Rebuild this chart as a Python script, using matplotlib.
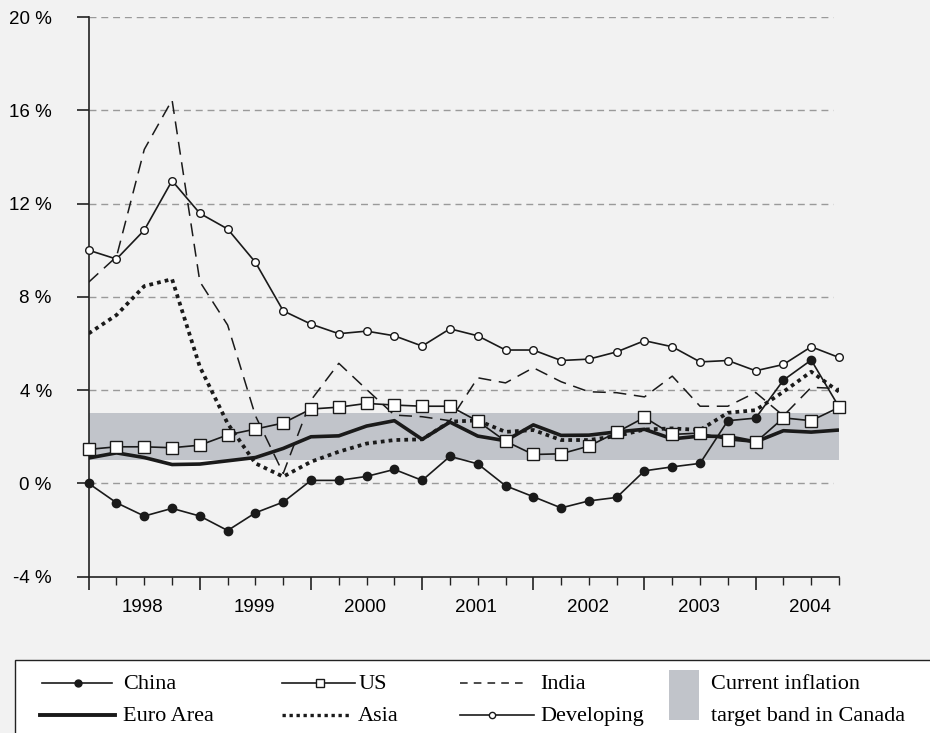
import matplotlib
matplotlib.use('Agg')
import matplotlib.pyplot as plt
from matplotlib.patches import Rectangle
from matplotlib.lines import Line2D
import numpy as np

# quarterly inflation, 1998Q1 .. 2004Q4 (%)
years = ['1998', '1999', '2000', '2001', '2002', '2003', '2004']
china = [0.0, -0.83, -1.40, -1.07, -1.40, -2.02, -1.26, -0.80, 0.13, 0.13, 0.30, 0.60, 0.13, 1.16,
         0.84, -0.10, -0.57, -1.05, -0.75, -0.60, 0.54, 0.71, 0.86, 2.69, 2.80, 4.43, 5.29, 3.28]
us = [1.46, 1.57, 1.57, 1.53, 1.64, 2.08, 2.33, 2.59, 3.19, 3.27, 3.43, 3.36, 3.31, 3.31,
      2.67, 1.81, 1.24, 1.27, 1.60, 2.19, 2.83, 2.10, 2.16, 1.87, 1.76, 2.81, 2.69, 3.26]
euro = [1.09, 1.31, 1.11, 0.81, 0.83, 0.97, 1.11, 1.50, 2.00, 2.04, 2.46, 2.69, 1.89, 2.63,
        2.03, 1.83, 2.51, 2.06, 2.07, 2.21, 2.32, 1.91, 2.03, 2.01, 1.78, 2.26, 2.20, 2.29]
india = [8.63, 9.72, 14.32, 16.44, 8.65, 6.79, 2.90, 0.43, 3.57, 5.15, 4.03, 2.93, 2.86, 2.69,
         4.53, 4.31, 4.96, 4.36, 3.93, 3.89, 3.71, 4.60, 3.31, 3.31, 3.90, 2.90, 4.12, 4.07]
asia = [6.43, 7.22, 8.46, 8.76, 5.00, 2.57, 0.86, 0.29, 0.93, 1.36, 1.71, 1.86, 1.89, 2.65,
        2.70, 2.21, 2.29, 1.86, 1.86, 2.03, 2.31, 2.36, 2.29, 3.03, 3.14, 3.93, 4.79, 3.93]
developing = [10.0, 9.62, 10.86, 12.98, 11.58, 10.91, 9.48, 7.40, 6.83, 6.42, 6.53, 6.33, 5.89, 6.63,
              6.33, 5.72, 5.72, 5.27, 5.33, 5.64, 6.12, 5.86, 5.21, 5.27, 4.83, 5.10, 5.86, 5.40]
band = (1, 3)
yticks = [-4, 0, 4, 8, 12, 16, 20]

bg = '#f2f2f2'
band_col = '#c1c4ca'
ink = '#1a1a1a'

fig = plt.figure(figsize=(9.3, 7.33), dpi=100, facecolor=bg)
ax = fig.add_axes([88.7/930, 1-576.7/733, (839-88.7)/930, (576.7-17)/733])
ax.set_facecolor(bg)

x = np.arange(len(china))
ax.set_xlim(0, len(china)-1)
ax.set_ylim(-4, 20)

ax.axhspan(band[0], band[1], xmin=0, xmax=1, color=band_col, lw=0, zorder=0)
for v in yticks[1:]:
    ax.plot([0, 26.8], [v, v], color='#9a9a9a', lw=1.0, dashes=(5, 3.5), zorder=1)

ax.plot(x, developing, color=ink, lw=1.2, marker='o', ms=5.5, mfc='white', mec=ink, mew=1.0, zorder=3, clip_on=False)
ax.plot(x, india, color=ink, lw=1.1, dashes=(8.5, 5), zorder=3)
ax.plot(x, asia, color=ink, lw=2.7, dashes=(1, 1.1), zorder=4)
ax.plot(x, euro, color=ink, lw=2.6, zorder=4, solid_capstyle='butt')
ax.plot(x, china, color=ink, lw=1.2, marker='o', ms=6, mfc=ink, mec=ink, zorder=5, clip_on=False)
ax.plot(x, us, color=ink, lw=1.2, marker='s', ms=8, mfc='white', mec=ink, mew=1.0, zorder=6, clip_on=False)

for s in ['top', 'right']:
    ax.spines[s].set_visible(False)
for s in ['left', 'bottom']:
    ax.spines[s].set_linewidth(1.2)
    ax.spines[s].set_color('#222222')

ax.set_yticks(yticks)
ax.set_yticklabels([f'{v} %' for v in yticks], fontfamily='Liberation Sans', fontsize=13.5)
ax.tick_params(axis='y', length=8.6, width=1.2, pad=18, color='#222222')
ax.set_xticks(np.arange(0, len(china), 4))
ax.set_xticks(x, minor=True)
ax.set_xticklabels([])
ax.tick_params(axis='x', which='major', length=9.5, width=1.2, color='#222222')
ax.tick_params(axis='x', which='minor', length=6, width=1.0, color='#222222')
for i, yr in enumerate(years):
    ax.annotate(yr, xy=(4*i+1.95, 0), xycoords=('data', 'axes fraction'), xytext=(0, -22),
                textcoords='offset points', ha='center', va='center',
                fontfamily='Liberation Sans', fontsize=13.5)

# legend drawn in pixel space
lg = fig.add_axes([0, 0, 1, 1], facecolor='none')
lg.set_xlim(0, 930)
lg.set_ylim(733, 0)
lg.axis('off')
lg.add_patch(Rectangle((15, 660), 930, 90, facecolor='white', edgecolor='#222222', lw=1.0))
serif = dict(fontfamily='Liberation Serif', fontsize=16, va='baseline', ha='left')
r1, r2 = 683, 715
lg.add_line(Line2D([42, 112], [r1, r1], color=ink, lw=1.2))
lg.plot([78], [r1], 'o', color=ink, ms=5)
lg.text(123, r1+6, 'China', **serif)
lg.add_line(Line2D([40, 115], [r2, r2], color=ink, lw=2.8))
lg.text(123, r2+6, 'Euro Area', **serif)
lg.add_line(Line2D([282, 355], [r1, r1], color=ink, lw=1.2))
lg.plot([320], [r1], 's', mfc='white', mec=ink, ms=6)
lg.text(358, r1+6, 'US', **serif)
lg.add_line(Line2D([282, 352], [r2, r2], color=ink, lw=2.4, dashes=(1, 1.1)))
lg.text(358, r2+6, 'Asia', **serif)
lg.add_line(Line2D([460, 528], [r1, r1], color=ink, lw=1.1, dashes=(5, 4)))
lg.text(540, r1+6, 'India', **serif)
lg.add_line(Line2D([460, 534], [r2, r2], color=ink, lw=1.2))
lg.plot([492], [r2], 'o', mfc='white', mec=ink, ms=4.5)
lg.text(540, r2+6, 'Developing', **serif)
lg.add_patch(Rectangle((669, 670), 30, 50, facecolor=band_col, lw=0))
lg.text(711, r1+6, 'Current inflation', **serif)
lg.text(711, r2+6, 'target band in Canada', **serif)

fig.savefig('out.png', dpi=100, facecolor=bg)
